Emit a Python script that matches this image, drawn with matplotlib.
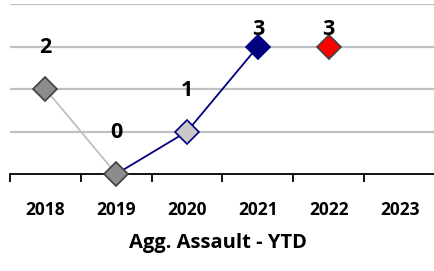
import matplotlib
matplotlib.use("Agg")
import matplotlib.pyplot as plt

years = ["2018", "2019", "2020", "2021", "2022", "2023"]
prior_idx = [0, 1]
prior_vals = [2, 0]
trend_idx = [1, 2, 3]
trend_vals = [0, 1, 3]
current_idx = [4]
current_vals = [3]
labels = ["2", "0", "1", "3", "3"]
label_idx = [0, 1, 2, 3, 4]
label_vals = [2, 0, 1, 3, 3]
title = "Agg. Assault - YTD"

plt.rcParams['font.family'] = ['Open Sans', 'DejaVu Sans']

fig = plt.figure(figsize=(4.35, 2.71), dpi=100)
ax = fig.add_axes([10/435, 1-174/271, 425/435, 170/271])
ax.set_xlim(-0.5, 5.5)
ax.set_ylim(0, 4)

for y in [1, 2, 3, 4]:
    ax.axhline(y, color="#c0c0c0", lw=1.6, zorder=0)

ax.plot(prior_idx, prior_vals, color="#c0c0c0", lw=1.3, zorder=2, clip_on=False)
ax.plot(trend_idx, trend_vals, color="#000080", lw=1.3, zorder=2, clip_on=False)

ms = 12.5
ax.plot([0, 1], [2, 0], ls="none", marker="D", ms=ms, mfc="#8c8c8c", mec="#404040", mew=1.2, zorder=4, clip_on=False)
ax.plot([2], [1], ls="none", marker="D", ms=ms, mfc="#c8c8c8", mec="#000080", mew=1.2, zorder=4, clip_on=False)
ax.plot([3], [3], ls="none", marker="D", ms=ms, mfc="#000080", mec="#000080", mew=1.2, zorder=4, clip_on=False)
ax.plot(current_idx, current_vals, ls="none", marker="D", ms=ms, mfc="#ff0000", mec="#404040", mew=1.2, zorder=4, clip_on=False)

for i, v, t in zip(label_idx, label_vals, labels):
    y = min(v + 0.97, 3.4)
    ax.text(i, y, t, ha="center", va="center", fontsize=15.5, fontweight="bold", color="black", zorder=5, clip_on=False)

for s in ["left", "right", "top"]:
    ax.spines[s].set_visible(False)
ax.spines["bottom"].set_color("black")
ax.spines["bottom"].set_linewidth(1.3)
ax.spines["bottom"].set_zorder(3)
ax.set_yticks([])
ax.set_xticks([i - 0.5 for i in range(7)])
ax.set_xticklabels([])
ax.tick_params(axis="x", direction="out", length=6, width=1.3, color="black")
for i, yr in enumerate(years):
    ax.text(i, -0.85, yr, ha="center", va="center", fontsize=12.5, fontweight="bold", clip_on=False)

fig.text(0.5, 1-243/271, title, ha="center", va="center", fontsize=14.5, fontweight="bold")

fig.savefig("out.png", dpi=100)
